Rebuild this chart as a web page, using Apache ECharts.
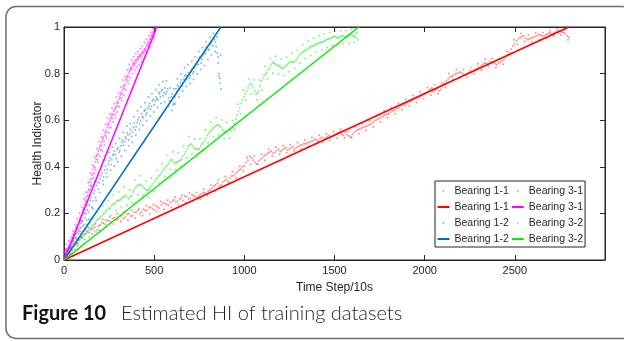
<!DOCTYPE html>
<html>
<head>
<meta charset="utf-8">
<title>Estimated HI of training datasets</title>
<script src="https://cdn.jsdelivr.net/npm/echarts@6/dist/echarts.min.js"></script>
<style>
  html, body { margin: 0; padding: 0; background: #fff; }
  #chart { width: 624px; height: 341px; }
</style>
</head>
<body>
<div id="chart"></div>
<script>
// 数据：时间步 与 健康指标 (每条轴承: 两组中间读数 + 上沿 + 下沿)
var t11 = [0,20,40,60,80,100,120,140,160,180,200,220,240,260,280,300,320,340,360,380,400,420,440,460,480,500,520,540,560,580,600,620,640,660,680,700,720,740,760,780,800,820,840,860,880,900,920,940,960,980,1000,1020,1040,1060,1080,1100,1120,1140,1160,1180,1200,1220,1240,1260,1280,1300,1320,1340,1360,1380,1400,1420,1440,1460,1480,1500,1520,1540,1560,1580,1600,1620,1640,1660,1680,1700,1720,1740,1760,1780,1800,1820,1840,1860,1880,1900,1920,1940,1960,1980,2000,2020,2040,2060,2080,2100,2120,2140,2160,2180,2200,2220,2240,2260,2280,2300,2320,2340,2360,2380,2400,2420,2440,2460,2480,2500,2520,2540,2560,2580,2600,2620,2640,2660,2680,2700,2720,2740,2760,2780,2800];
var hi11 = [0.018,0.030,0.052,0.066,0.088,0.095,0.112,0.118,0.135,0.128,0.150,0.158,0.170,0.162,0.182,0.175,0.190,0.184,0.198,0.190,0.205,0.196,0.218,0.212,0.228,0.215,0.226,0.236,0.242,0.235,0.252,0.248,0.262,0.255,0.272,0.266,0.276,0.268,0.282,0.290,0.296,0.308,0.322,0.315,0.335,0.346,0.352,0.362,0.378,0.390,0.405,0.428,0.438,0.418,0.425,0.440,0.452,0.462,0.458,0.470,0.466,0.478,0.472,0.482,0.478,0.488,0.494,0.498,0.505,0.512,0.516,0.522,0.518,0.530,0.526,0.538,0.545,0.540,0.548,0.532,0.540,0.555,0.562,0.570,0.575,0.582,0.594,0.604,0.612,0.622,0.628,0.640,0.646,0.655,0.668,0.672,0.680,0.690,0.696,0.705,0.712,0.724,0.738,0.730,0.726,0.745,0.768,0.785,0.792,0.800,0.806,0.795,0.802,0.808,0.818,0.826,0.838,0.846,0.852,0.845,0.838,0.848,0.862,0.882,0.905,0.928,0.950,0.958,0.952,0.948,0.955,0.962,0.966,0.960,0.970,0.972,0.976,0.982,0.978,0.972,0.956];
var t11b = [10,30,50,70,90,110,130,150,170,190,210,230,250,270,290,310,330,350,370,390,410,430,450,470,490,510,530,550,570,590,610,630,650,670,690,710,730,750,770,790,810,830,850,870,890,910,930,950,970,990,1010,1030,1050,1070,1090,1110,1130,1150,1170,1190,1210,1230,1250,1270,1290,1310,1330,1350,1370,1390,1410,1430,1450,1470,1490,1510,1530,1550,1570,1590,1610,1630,1650,1670,1690,1710,1730,1750,1770,1790,1810,1830,1850,1870,1890,1910,1930,1950,1970,1990,2010,2030,2050,2070,2090,2110,2130,2150,2170,2190,2210,2230,2250,2270,2290,2310,2330,2350,2370,2390,2410,2430,2450,2470,2490,2510,2530,2550,2570,2590,2610,2630,2650,2670,2690,2710,2730,2750,2770,2790];
var hi11b = [0.028,0.045,0.070,0.072,0.098,0.108,0.120,0.130,0.142,0.145,0.160,0.152,0.168,0.178,0.170,0.186,0.178,0.196,0.188,0.204,0.212,0.205,0.214,0.224,0.220,0.232,0.222,0.246,0.238,0.248,0.258,0.252,0.266,0.274,0.262,0.280,0.272,0.278,0.288,0.284,0.300,0.316,0.328,0.322,0.340,0.338,0.360,0.370,0.385,0.400,0.418,0.445,0.428,0.412,0.432,0.448,0.458,0.468,0.462,0.476,0.472,0.482,0.476,0.486,0.484,0.492,0.500,0.502,0.510,0.518,0.512,0.526,0.524,0.534,0.532,0.542,0.550,0.536,0.538,0.528,0.548,0.560,0.566,0.572,0.580,0.588,0.600,0.608,0.618,0.626,0.634,0.642,0.652,0.662,0.664,0.678,0.684,0.694,0.700,0.710,0.718,0.732,0.722,0.735,0.732,0.758,0.778,0.790,0.798,0.806,0.800,0.796,0.812,0.812,0.822,0.832,0.844,0.840,0.848,0.842,0.844,0.854,0.872,0.892,0.918,0.940,0.955,0.962,0.946,0.952,0.958,0.968,0.962,0.966,0.975,0.970,0.980,0.984,0.975,0.962];
var t11u = [15,55,95,135,175,215,255,295,335,375,415,455,495,535,575,615,655,695,735,775,815,855,895,935,975,1015,1055,1095,1135,1175,1215,1255,1295,1335,1375,1415,1455,1495,1535,1575,1615,1655,1695,1735,1775,1815,1855,1895,1935,1975,2015,2055,2095,2135,2175,2215,2255,2295,2335,2375,2415,2455,2495,2535,2575,2615,2655,2695,2735,2775];
var hi11u = [0.040,0.080,0.112,0.140,0.155,0.175,0.185,0.200,0.205,0.214,0.220,0.234,0.238,0.252,0.256,0.270,0.278,0.288,0.290,0.305,0.322,0.342,0.358,0.380,0.402,0.440,0.445,0.455,0.476,0.484,0.490,0.496,0.504,0.516,0.526,0.535,0.542,0.552,0.560,0.552,0.570,0.586,0.598,0.620,0.640,0.655,0.674,0.690,0.706,0.722,0.740,0.752,0.760,0.800,0.816,0.818,0.826,0.842,0.862,0.865,0.862,0.895,0.945,0.972,0.966,0.975,0.976,0.985,0.992,0.988];
var t11l = [35,75,115,155,195,235,275,315,355,395,435,475,515,555,595,635,675,715,755,795,835,875,915,955,995,1035,1075,1115,1155,1195,1235,1275,1315,1355,1395,1435,1475,1515,1555,1595,1635,1675,1715,1755,1795,1835,1875,1915,1955,1995,2035,2075,2115,2155,2195,2235,2275,2315,2355,2395,2435,2475,2515,2555,2595,2635,2675,2715,2755,2795];
var hi11l = [0.028,0.060,0.088,0.112,0.128,0.142,0.155,0.165,0.172,0.180,0.190,0.198,0.208,0.218,0.226,0.238,0.246,0.252,0.262,0.278,0.295,0.314,0.330,0.352,0.382,0.410,0.412,0.428,0.446,0.454,0.460,0.468,0.476,0.488,0.498,0.505,0.514,0.522,0.524,0.524,0.542,0.556,0.572,0.592,0.610,0.628,0.645,0.660,0.676,0.692,0.708,0.712,0.740,0.772,0.782,0.784,0.798,0.815,0.830,0.826,0.840,0.882,0.925,0.938,0.935,0.946,0.952,0.960,0.966,0.945];

var t12 = [0,10,20,30,40,50,60,70,80,90,100,110,120,130,140,150,160,170,180,190,200,210,220,230,240,250,260,270,280,290,300,310,320,330,340,350,360,370,380,390,400,410,420,430,440,450,460,470,480,490,500,510,520,530,540,550,560,570,580,590,600,610,620,630,640,650,660,670,680,690,700,710,720,730,740,750,760,770,780,790,800,810,820,830,840,850,855,860,865,870];
var hi12 = [0.010,0.025,0.040,0.062,0.058,0.085,0.102,0.096,0.128,0.140,0.165,0.152,0.198,0.215,0.236,0.270,0.252,0.298,0.320,0.305,0.348,0.372,0.356,0.402,0.388,0.425,0.410,0.448,0.468,0.436,0.482,0.470,0.505,0.492,0.528,0.545,0.515,0.560,0.548,0.588,0.572,0.602,0.585,0.628,0.610,0.645,0.632,0.660,0.648,0.682,0.666,0.700,0.688,0.712,0.724,0.705,0.738,0.722,0.696,0.680,0.712,0.672,0.735,0.750,0.732,0.772,0.760,0.790,0.778,0.805,0.792,0.820,0.808,0.835,0.850,0.868,0.845,0.880,0.895,0.912,0.900,0.925,0.940,0.952,0.935,0.890,0.845,0.800,0.760,0.735];
var t12b = [5,15,25,35,45,55,65,75,85,95,105,115,125,135,145,155,165,175,185,195,205,215,225,235,245,255,265,275,285,295,305,315,325,335,345,355,365,375,385,395,405,415,425,435,445,455,465,475,485,495,505,515,525,535,545,555,565,575,585,595,605,615,625,635,645,655,665,675,685,695,705,715,725,735,745,755,765,775,785,795,805,815,825,835,845,855,865];
var hi12b = [0.020,0.035,0.048,0.055,0.078,0.092,0.110,0.118,0.122,0.158,0.145,0.180,0.172,0.205,0.255,0.228,0.285,0.268,0.335,0.330,0.362,0.340,0.385,0.372,0.410,0.438,0.430,0.455,0.452,0.475,0.462,0.490,0.515,0.508,0.520,0.535,0.542,0.530,0.570,0.558,0.590,0.612,0.598,0.615,0.640,0.622,0.650,0.672,0.660,0.690,0.682,0.690,0.720,0.700,0.732,0.718,0.712,0.735,0.685,0.700,0.665,0.700,0.722,0.745,0.760,0.748,0.775,0.795,0.790,0.780,0.812,0.800,0.825,0.842,0.838,0.872,0.862,0.890,0.885,0.918,0.905,0.932,0.920,0.945,0.915,0.870,0.780];
var t12u = [8,28,48,68,88,108,128,148,168,188,208,228,248,268,288,308,328,348,368,388,408,428,448,468,488,508,528,548,568,588,608,628,648,668,688,708,728,748,768,788,808,828,848,868];
var hi12u = [0.045,0.085,0.110,0.140,0.175,0.205,0.250,0.300,0.335,0.365,0.400,0.428,0.462,0.485,0.500,0.522,0.548,0.575,0.585,0.615,0.640,0.658,0.675,0.700,0.715,0.732,0.752,0.765,0.768,0.738,0.735,0.778,0.798,0.825,0.838,0.852,0.872,0.895,0.912,0.938,0.955,0.972,0.958,0.880];
var t12l = [18,38,58,78,98,118,138,158,178,198,218,238,258,278,298,318,338,358,378,398,418,438,458,478,498,518,538,558,578,598,618,638,658,678,698,718,738,758,778,798,818,838,858];
var hi12l = [0.012,0.025,0.045,0.070,0.100,0.130,0.175,0.220,0.255,0.290,0.325,0.355,0.385,0.405,0.422,0.445,0.470,0.490,0.505,0.535,0.560,0.578,0.598,0.618,0.635,0.655,0.672,0.678,0.660,0.642,0.670,0.700,0.725,0.745,0.758,0.775,0.798,0.818,0.835,0.860,0.880,0.895,0.790];

var t31 = [0,6,12,18,24,30,36,42,48,54,60,66,72,78,84,90,96,102,108,114,120,126,132,138,144,150,156,162,168,174,180,186,192,198,204,210,216,222,228,234,240,246,252,258,264,270,276,282,288,294,300,306,312,318,324,330,336,342,348,354,360,366,372,378,384,390,396,402,408,414,420,426,432,438,444,450,456,462,468,474,480,486,492,498,504,510];
var hi31 = [0.035,0.042,0.030,0.048,0.040,0.055,0.062,0.075,0.088,0.095,0.110,0.122,0.140,0.132,0.160,0.175,0.168,0.205,0.220,0.238,0.258,0.245,0.290,0.305,0.335,0.320,0.365,0.388,0.372,0.420,0.445,0.430,0.468,0.485,0.472,0.505,0.522,0.510,0.545,0.532,0.568,0.585,0.572,0.605,0.620,0.608,0.638,0.625,0.655,0.672,0.660,0.690,0.708,0.695,0.728,0.745,0.735,0.765,0.782,0.770,0.802,0.815,0.828,0.818,0.842,0.835,0.855,0.848,0.868,0.860,0.878,0.872,0.890,0.885,0.902,0.898,0.915,0.928,0.920,0.942,0.950,0.962,0.972,0.980,0.988,0.996];
var t31b = [3,9,15,21,27,33,39,45,51,57,63,69,75,81,87,93,99,105,111,117,123,129,135,141,147,153,159,165,171,177,183,189,195,201,207,213,219,225,231,237,243,249,255,261,267,273,279,285,291,297,303,309,315,321,327,333,339,345,351,357,363,369,375,381,387,393,399,405,411,417,423,429,435,441,447,453,459,465,471,477,483,489,495,501,507];
var hi31b = [0.030,0.045,0.038,0.052,0.058,0.050,0.068,0.080,0.092,0.105,0.112,0.135,0.148,0.150,0.165,0.188,0.195,0.212,0.225,0.250,0.268,0.275,0.298,0.320,0.345,0.350,0.372,0.400,0.398,0.432,0.450,0.455,0.478,0.495,0.490,0.515,0.528,0.535,0.555,0.548,0.578,0.590,0.598,0.612,0.628,0.622,0.645,0.652,0.662,0.680,0.675,0.700,0.718,0.712,0.738,0.750,0.752,0.775,0.790,0.788,0.810,0.822,0.822,0.835,0.848,0.842,0.860,0.858,0.872,0.870,0.882,0.880,0.895,0.892,0.908,0.905,0.922,0.935,0.932,0.948,0.958,0.965,0.978,0.985,0.992];
var t31u = [2,14,26,38,50,62,74,86,98,110,122,134,146,158,170,182,194,206,218,230,242,254,266,278,290,302,314,326,338,350,362,374,386,398,410,422,434,446,458,470,482,494,506];
var hi31u = [0.055,0.068,0.078,0.098,0.125,0.150,0.178,0.202,0.228,0.262,0.292,0.332,0.372,0.408,0.442,0.478,0.508,0.528,0.558,0.582,0.608,0.628,0.652,0.672,0.698,0.718,0.742,0.772,0.788,0.815,0.840,0.858,0.872,0.886,0.895,0.908,0.918,0.932,0.948,0.962,0.978,0.992,0.998];
var t31l = [8,20,32,44,56,68,80,92,104,116,128,140,152,164,176,188,200,212,224,236,248,260,272,284,296,308,320,332,344,356,368,380,392,404,416,428,440,452,464,476,488,500];
var hi31l = [0.018,0.015,0.022,0.040,0.062,0.088,0.112,0.138,0.168,0.200,0.235,0.278,0.315,0.352,0.388,0.420,0.445,0.468,0.495,0.522,0.545,0.568,0.592,0.612,0.635,0.658,0.685,0.708,0.730,0.758,0.782,0.800,0.815,0.828,0.838,0.850,0.862,0.876,0.892,0.912,0.935,0.955];

var t32 = [0,15,30,45,60,75,90,105,120,135,150,165,180,195,210,225,240,255,270,285,300,315,330,345,360,375,390,405,420,435,450,465,480,495,510,525,540,555,570,585,600,615,630,645,660,675,690,705,720,735,750,765,780,795,810,825,840,855,870,885,900,915,930,945,960,975,990,1005,1020,1035,1050,1065,1080,1095,1110,1125,1140,1155,1170,1185,1200,1215,1230,1245,1260,1275,1290,1305,1320,1335,1350,1365,1380,1395,1410,1425,1440,1455,1470,1485,1500,1515,1530,1545,1560,1575,1590,1605,1620,1630];
var hi32 = [0.010,0.022,0.035,0.048,0.062,0.075,0.088,0.098,0.115,0.128,0.140,0.152,0.168,0.178,0.190,0.200,0.215,0.222,0.238,0.245,0.255,0.262,0.270,0.278,0.262,0.275,0.300,0.318,0.325,0.318,0.305,0.300,0.312,0.328,0.345,0.360,0.372,0.390,0.405,0.422,0.430,0.415,0.420,0.428,0.445,0.465,0.488,0.498,0.482,0.475,0.478,0.498,0.515,0.535,0.552,0.565,0.575,0.580,0.570,0.552,0.548,0.560,0.555,0.585,0.622,0.655,0.688,0.712,0.738,0.760,0.740,0.712,0.725,0.768,0.792,0.805,0.825,0.848,0.842,0.835,0.828,0.820,0.832,0.845,0.852,0.848,0.862,0.878,0.890,0.898,0.905,0.915,0.918,0.925,0.930,0.935,0.938,0.945,0.950,0.955,0.960,0.952,0.958,0.962,0.955,0.960,0.968,0.962,0.955,0.945];
var t32b = [8,23,38,53,68,83,98,113,128,143,158,173,188,203,218,233,248,263,278,293,308,323,338,353,368,383,398,413,428,443,458,473,488,503,518,533,548,563,578,593,608,623,638,653,668,683,698,713,728,743,758,773,788,803,818,833,848,863,878,893,908,923,938,953,968,983,998,1013,1028,1043,1058,1073,1088,1103,1118,1133,1148,1163,1178,1193,1208,1223,1238,1253,1268,1283,1298,1313,1328,1343,1358,1373,1388,1403,1418,1433,1448,1463,1478,1493,1508,1523,1538,1553,1568,1583,1598,1613];
var hi32b = [0.018,0.030,0.040,0.058,0.068,0.085,0.095,0.108,0.122,0.135,0.148,0.160,0.175,0.185,0.198,0.210,0.222,0.232,0.240,0.252,0.258,0.268,0.275,0.268,0.270,0.292,0.310,0.322,0.322,0.310,0.300,0.305,0.320,0.338,0.352,0.366,0.382,0.398,0.412,0.428,0.422,0.418,0.425,0.435,0.455,0.478,0.495,0.490,0.478,0.476,0.490,0.505,0.525,0.545,0.558,0.570,0.578,0.575,0.560,0.550,0.555,0.558,0.570,0.605,0.640,0.672,0.700,0.725,0.750,0.752,0.725,0.718,0.748,0.780,0.798,0.815,0.838,0.845,0.838,0.832,0.825,0.826,0.838,0.848,0.850,0.855,0.870,0.885,0.895,0.902,0.910,0.916,0.922,0.928,0.932,0.936,0.942,0.948,0.952,0.958,0.956,0.955,0.960,0.958,0.958,0.965,0.965,0.958];
var t32u = [4,34,64,94,124,154,184,214,244,274,304,334,364,394,424,454,484,514,544,574,604,634,664,694,724,754,784,814,844,874,904,934,964,994,1024,1054,1084,1114,1144,1174,1204,1234,1264,1294,1324,1354,1384,1414,1444,1474,1504,1534,1564,1594,1624];
var hi32u = [0.035,0.065,0.095,0.122,0.152,0.180,0.205,0.232,0.255,0.278,0.292,0.312,0.302,0.342,0.362,0.338,0.352,0.385,0.412,0.448,0.465,0.460,0.488,0.528,0.518,0.520,0.558,0.592,0.612,0.602,0.590,0.598,0.668,0.730,0.778,0.772,0.772,0.832,0.865,0.875,0.862,0.870,0.888,0.900,0.925,0.940,0.952,0.962,0.970,0.978,0.985,0.982,0.985,0.990,0.975];
var t32l = [19,49,79,109,139,169,199,229,259,289,319,349,379,409,439,469,499,529,559,589,619,649,679,709,739,769,799,829,859,889,919,949,979,1009,1039,1069,1099,1129,1159,1189,1219,1249,1279,1309,1339,1369,1399,1429,1459,1489,1519,1549,1579,1609];
var hi32l = [0.005,0.022,0.045,0.072,0.098,0.122,0.148,0.172,0.192,0.212,0.228,0.235,0.245,0.280,0.278,0.268,0.295,0.328,0.358,0.388,0.388,0.400,0.438,0.455,0.442,0.468,0.502,0.530,0.538,0.520,0.522,0.560,0.628,0.685,0.712,0.688,0.730,0.778,0.802,0.798,0.792,0.808,0.822,0.845,0.865,0.878,0.892,0.902,0.912,0.922,0.925,0.928,0.930,0.935];

// 拟合直线的两个端点 [时间步, 健康指标]
var fit11 = [[0, 0], [2800, 1]];
var fit12 = [[0, 0], [870, 1]];
var fit31 = [[0, 0], [515, 1]];
var fit32 = [[0, 0], [1635, 1]];

var xTicks = [0, 3000, 500];
var yTicks = [0, 1, 0.2];

function pairs(ts, vs) {
    var out = [];
    for (var i = 0; i < ts.length; i++) out.push([ts[i], vs[i]]);
    return out;
}

var font = 'Liberation Sans, Arial, Helvetica, sans-serif';
var axisColor = '#262626';

var myChart = echarts.init(document.getElementById('chart'));

function scatterSeries(name, data, color) {
    return {
        name: name,
        type: 'scatter',
        data: data,
        symbol: 'circle',
        symbolSize: 2,
        itemStyle: { color: color },
        silent: true
    };
}
function lineSeries(name, data, color) {
    return {
        name: name,
        type: 'line',
        data: data,
        symbol: 'none',
        showSymbol: false,
        lineStyle: { color: color, width: 1.5 },
        itemStyle: { color: color },
        silent: true
    };
}

function tickAxis(extra) {
    var a = {
        type: 'value',
        axisLine: { show: true, onZero: false, lineStyle: { color: axisColor } },
        axisTick: { show: true, inside: true, length: 5, lineStyle: { color: axisColor } },
        splitLine: { show: false }
    };
    for (var k in extra) a[k] = extra[k];
    return a;
}

var option = {
    animation: false,
    textStyle: { fontFamily: font },
    grid: {
        left: 64, top: 27, width: 541, height: 233,
        show: true, borderColor: axisColor, borderWidth: 1, backgroundColor: '#fff'
    },
    legend: {
        orient: 'vertical',
        left: 435, top: 181, height: 66,
        itemWidth: 12, itemHeight: 2, itemGap: 2,
        padding: [3, 2, 1, 1.5],
        backgroundColor: '#fff', borderColor: axisColor, borderWidth: 1,
        selectedMode: false,
        textStyle: { fontFamily: font, fontSize: 10.5, color: axisColor, lineHeight: 14 },
        formatter: function (n) { return n.replace(' fit', ''); },
        data: [
            { name: 'Bearing 1-1', icon: 'circle' }, 'Bearing 1-1 fit',
            { name: 'Bearing 1-2', icon: 'circle' }, 'Bearing 1-2 fit',
            { name: 'Bearing 3-1', icon: 'circle' }, 'Bearing 3-1 fit',
            { name: 'Bearing 3-2', icon: 'circle' }, 'Bearing 3-2 fit'
        ]
    },
    xAxis: [
        tickAxis({
            position: 'bottom', min: xTicks[0], max: xTicks[1], interval: xTicks[2],
            name: 'Time Step/10s', nameLocation: 'middle', nameGap: 22, nameMoveOverlap: false,
            nameTextStyle: { fontSize: 12, color: axisColor, fontFamily: font },
            axisLabel: {
                fontSize: 11, color: axisColor, margin: 5, showMaxLabel: false, fontFamily: font,
                formatter: function (v) { return String(v); }
            }
        }),
        tickAxis({
            position: 'top', min: xTicks[0], max: xTicks[1], interval: xTicks[2],
            axisLabel: { show: false }
        })
    ],
    yAxis: [
        tickAxis({
            position: 'left', min: yTicks[0], max: yTicks[1], interval: yTicks[2],
            name: 'Health Indicator', nameLocation: 'middle', nameGap: 20, nameMoveOverlap: false,
            nameTextStyle: { fontSize: 12, color: axisColor, fontFamily: font },
            axisLabel: { fontSize: 11, color: axisColor, margin: 4, fontFamily: font }
        }),
        tickAxis({
            position: 'right', min: yTicks[0], max: yTicks[1], interval: yTicks[2],
            axisLabel: { show: false }
        })
    ],
    graphic: [{
        type: 'rect',
        shape: { x: 6, y: 6.5, width: 626, height: 332, r: 10 },
        style: { fill: 'none', stroke: '#6e6e6e', lineWidth: 1.5 },
        silent: true, z: -10
    }, {
        type: 'text', x: 22, y: 314,
        style: { text: 'Figure 10', font: 'bold 20px Lato, "Open Sans", sans-serif', fill: '#111', verticalAlign: 'middle' },
        silent: true
    }, {
        type: 'text', x: 121, y: 314,
        style: { text: 'Estimated HI of training datasets', font: '300 20px Lato, "Open Sans", sans-serif', fill: '#231f20', verticalAlign: 'middle' },
        silent: true
    }],
    series: [
        scatterSeries('Bearing 1-1', pairs(t11, hi11).concat(pairs(t11b, hi11b), pairs(t11u, hi11u), pairs(t11l, hi11l)), 'rgba(255,0,0,0.55)'),
        lineSeries('Bearing 1-1 fit', fit11, '#ff0000'),
        scatterSeries('Bearing 1-2', pairs(t12, hi12).concat(pairs(t12b, hi12b), pairs(t12u, hi12u), pairs(t12l, hi12l)), 'rgba(0,114,189,0.6)'),
        lineSeries('Bearing 1-2 fit', fit12, '#0072bd'),
        scatterSeries('Bearing 3-1', pairs(t31, hi31).concat(pairs(t31b, hi31b), pairs(t31u, hi31u), pairs(t31l, hi31l)), 'rgba(255,0,255,0.6)'),
        lineSeries('Bearing 3-1 fit', fit31, '#ff00ff'),
        scatterSeries('Bearing 3-2', pairs(t32, hi32).concat(pairs(t32b, hi32b), pairs(t32u, hi32u), pairs(t32l, hi32l)), 'rgba(0,230,0,0.6)'),
        lineSeries('Bearing 3-2 fit', fit32, '#00ee00')
    ]
};
myChart.setOption(option);
</script>
</body>
</html>
